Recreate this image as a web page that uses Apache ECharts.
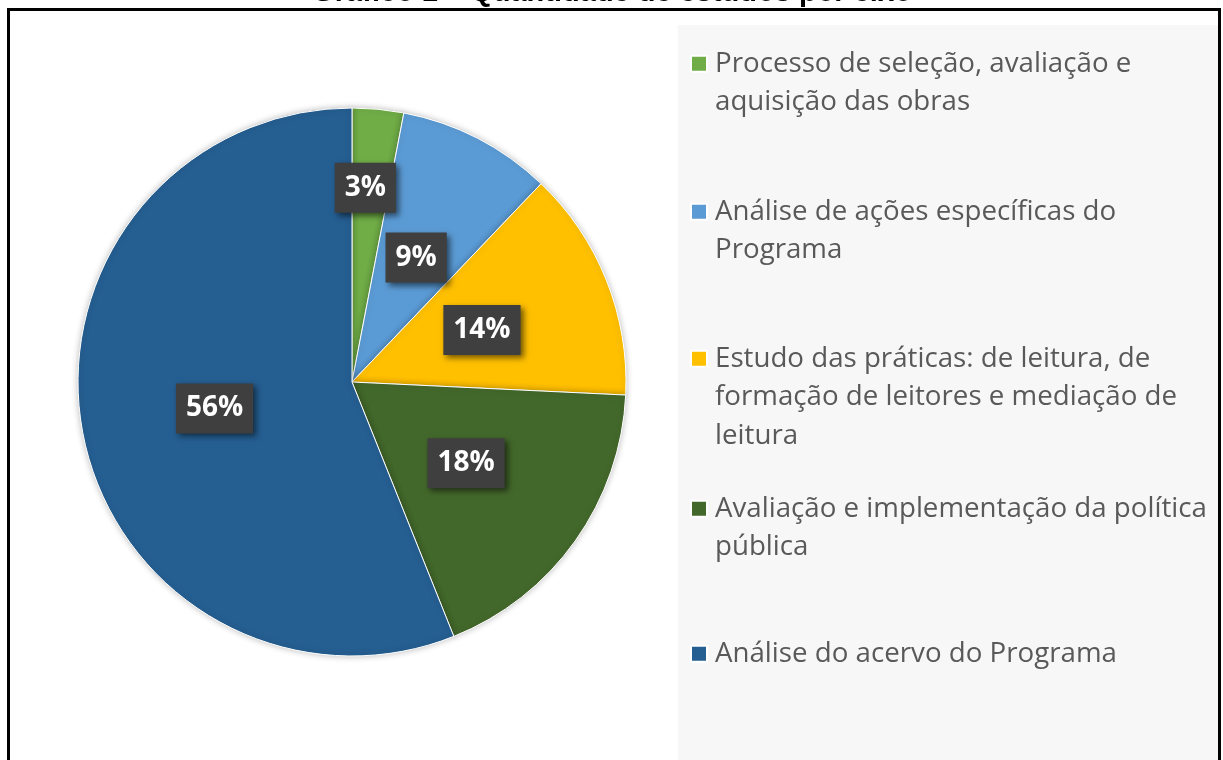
<!DOCTYPE html>
<html>
<head>
<meta charset="utf-8">
<script src="https://cdn.jsdelivr.net/npm/echarts@6/dist/echarts.min.js"></script>
<style>
html,body{margin:0;padding:0;background:#fff;}
#chart{width:1223px;height:760px;}
</style>
</head>
<body>
<div id="chart"></div>
<script>
const titleText = 'Gráfico 1 – Quantidade de estudos por eixo';
const categories = [
  'Processo de seleção, avaliação e aquisição das obras',
  'Análise de ações específicas do Programa',
  'Estudo das práticas: de leitura, de formação de leitores e mediação de leitura',
  'Avaliação e implementação da política pública',
  'Análise do acervo do Programa'
];
const legendLines = [
  ['Processo de seleção, avaliação e', 'aquisição das obras'],
  ['Análise de ações específicas do', 'Programa'],
  ['Estudo das práticas: de leitura, de', 'formação de leitores e mediação de', 'leitura'],
  ['Avaliação e implementação da política', 'pública'],
  ['Análise do acervo do Programa']
];
const counts = [2, 6, 9, 12, 37];
const colors = ['#70AD47', '#5B9BD5', '#FFC000', '#43682B', '#255E91'];

const LH = 38.5;
const legendCenters = [62, 210, 357, 507, 652];

const chart = echarts.init(document.getElementById('chart'), null, {renderer: 'canvas'});

const legends = categories.map((name, i) => {
  const n = legendLines[i].length;
  return {
    data: [name],
    left: 690,
    top: legendCenters[i] - 12.25,
    padding: 0,
    orient: 'vertical',
    icon: 'rect',
    itemWidth: 16,
    itemHeight: 16,
    selectedMode: false,
    formatter: () => legendLines[i].map(l => '{t|' + l + '}').join('\n'),
    textStyle: {
      padding: [(n - 1) * LH, 0, 0, 3],
      rich: {
        t: {
          fontFamily: 'Open Sans',
          fontSize: 27.7,
          color: '#595959',
          lineHeight: LH
        }
      }
    }
  };
});

chart.setOption({
  backgroundColor: '#ffffff',
  animation: false,
  color: colors,
  graphic: [
    {type: 'rect', z: -10, shape: {x: 678, y: 25, width: 540, height: 760}, style: {fill: '#f7f7f7'}},
    {type: 'rect', z: 10, shape: {x: 8.5, y: 9.5, width: 1211, height: 800}, style: {fill: null, stroke: '#000', lineWidth: 3}},
    {type: 'text', z: 10, x: 612, y: -7, style: {text: titleText, font: 'bold 29px "Liberation Sans", Arial', fill: '#000', align: 'center', verticalAlign: 'middle'}}
  ],
  legend: legends,
  series: [{
    type: 'pie',
    center: [352, 382],
    radius: 274,
    startAngle: 90,
    clockwise: true,
    avoidLabelOverlap: false,
    itemStyle: {borderColor: '#ffffff', borderWidth: 1, shadowBlur: 6, shadowColor: 'rgba(0,0,0,0.25)'},
    emphasis: {disabled: true},
    label: {
      show: true,
      position: 'inside',
      formatter: p => Math.round(p.percent) + '%',
      fontFamily: 'Open Sans',
      fontWeight: 'bold',
      fontSize: 28,
      color: '#ffffff',
      backgroundColor: '#3f3f3f',
      padding: [11, 10],
      shadowColor: 'rgba(0,0,0,0.55)',
      shadowBlur: 6,
      shadowOffsetX: 3,
      shadowOffsetY: 3
    },
    labelLayout: params => params.dataIndex === 0 ? {dy: -55} : {},
    labelLine: {show: false},
    data: categories.map((name, i) => ({name: name, value: counts[i]}))
  }]
});
</script>
</body>
</html>
